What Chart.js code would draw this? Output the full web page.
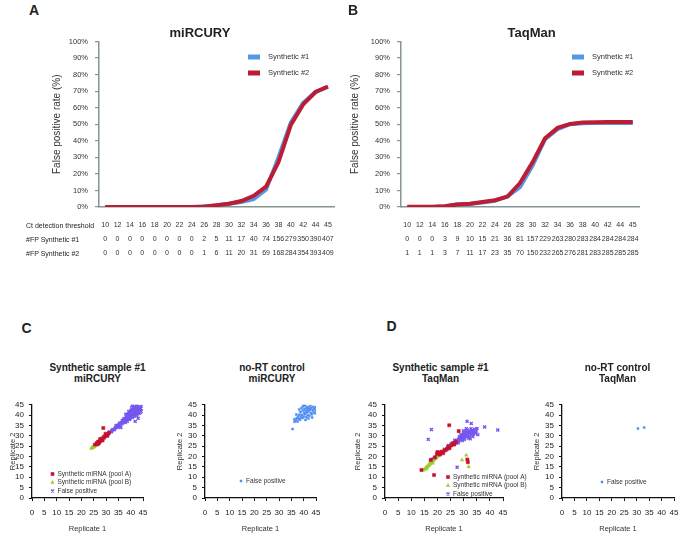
<!DOCTYPE html>
<html>
<head>
<meta charset="utf-8">
<script src="https://cdn.jsdelivr.net/npm/chart.js@4.4.1/dist/chart.umd.min.js"></script>
<style>
  html, body { margin: 0; padding: 0; background: #fff; }
  #page { position: relative; width: 685px; height: 534px; overflow: hidden; font-family: 'Liberation Sans', Arial, sans-serif; color: #222; }
  #page canvas { position: absolute; }
  .txt { position: absolute; white-space: nowrap; line-height: 1; }
</style>
</head>
<body>
<div id="page"></div>
<script>
// --- data ---
const thresholds = [10, 12, 14, 16, 18, 20, 22, 24, 26, 28, 30, 32, 34, 36, 38, 40, 42, 44, 45];

// number of false positives per threshold (tables under A and B)
const fpMir1 = [0, 0, 0, 0, 0, 0, 0, 0, 2, 5, 11, 17, 40, 74, 156, 279, 350, 390, 407];
const fpMir2 = [0, 0, 0, 0, 0, 0, 0, 0, 1, 6, 11, 20, 31, 69, 168, 284, 354, 393, 409];
const fpTaq1 = [0, 0, 0, 3, 9, 10, 15, 21, 36, 81, 157, 229, 263, 280, 283, 284, 284, 284, 284];
const fpTaq2 = [1, 1, 1, 3, 7, 11, 17, 23, 35, 70, 150, 232, 265, 276, 281, 283, 285, 285, 285];

// false positive rate (%) curves
const rateMir1 = [0, 0, 0, 0, 0, 0, 0, 0, 0.4, 0.9, 2, 3, 4.8, 10.5, 30, 51, 63, 69.5, 72.5];
const rateMir2 = [0, 0, 0, 0, 0, 0, 0, 0, 0.2, 1.1, 2, 3.6, 6.8, 12.3, 27, 49.5, 62, 69.5, 72.8];
const rateTaq1 = [0, 0, 0, 0.5, 1.6, 1.8, 2.7, 3.8, 6.4, 12, 25, 41, 47, 50, 50.6, 50.8, 50.8, 50.8, 50.8];
const rateTaq2 = [0.2, 0.2, 0.2, 0.5, 1.5, 2, 3, 4.1, 6.3, 14.5, 27, 41.5, 47.8, 50.2, 51, 51.2, 51.4, 51.4, 51.4];

// scatter C: miRCURY synthetic sample #1 (replicate 1, replicate 2)
const mirPoolA = [[25.5, 25.8], [26.2, 26.5], [26.8, 27.2], [27.3, 26.9], [27.8, 27.9], [28.2, 28.6], [28.6, 27.8],
  [29.1, 29.4], [29.5, 29.8], [30.1, 30.4], [30.5, 30.0], [27.0, 26.3], [28.9, 33.8], [26.5, 25.9], [29.8, 31.0],
  [31.2, 31.5], [27.6, 28.4]];
const mirPoolB = [[24.0, 23.9], [24.3, 24.2], [24.6, 24.3], [24.9, 24.8], [25.1, 24.6], [25.3, 25.2], [25.6, 25.4],
  [25.8, 25.9], [26.0, 25.6], [26.2, 26.1], [26.5, 26.3], [26.7, 26.8], [27.0, 26.6], [27.2, 27.1], [27.5, 27.4],
  [27.8, 27.2], [28.0, 27.9], [28.3, 28.1], [28.6, 28.4], [29.0, 28.7], [24.5, 24.7], [25.4, 25.0], [26.3, 26.6],
  [27.4, 27.7]];
const mirFalsePos = [[28.5, 28.8], [29.3, 29.0], [30.0, 30.3], [30.8, 30.6], [31.5, 31.9], [32.2, 32.0], [32.8, 33.1],
  [33.3, 32.9], [33.9, 34.2], [34.4, 34.0], [34.9, 35.1], [35.3, 35.6], [35.8, 35.3], [36.2, 36.5], [36.5, 35.9],
  [36.8, 36.9], [37.0, 37.5], [37.3, 36.6], [37.5, 37.9], [37.7, 38.4], [37.9, 37.2], [38.1, 38.0], [38.2, 38.9],
  [38.4, 37.6], [38.5, 39.3], [38.7, 38.3], [38.9, 39.8], [39.0, 38.7], [39.1, 40.4], [39.3, 39.2], [39.4, 37.9],
  [39.5, 40.9], [39.6, 39.6], [39.8, 41.5], [39.9, 38.8], [40.0, 40.2], [40.1, 42.3], [40.2, 39.4], [40.3, 41.0],
  [40.4, 43.0], [40.5, 40.6], [40.6, 38.9], [40.7, 41.8], [40.8, 44.5], [40.9, 39.9], [41.0, 42.6], [41.1, 40.8],
  [41.2, 43.6], [41.3, 41.4], [41.4, 39.6], [41.5, 42.1], [41.6, 44.2], [41.7, 40.4], [41.8, 41.9], [41.9, 43.1],
  [42.0, 40.9], [42.1, 42.6], [42.2, 44.8], [42.3, 41.5], [42.4, 39.8], [42.5, 43.4], [42.6, 42.0], [42.8, 40.6],
  [42.9, 44.0], [43.0, 41.8], [43.2, 42.9], [43.4, 40.9], [43.5, 43.7], [43.7, 42.4], [43.9, 41.3], [44.0, 43.2],
  [44.2, 44.3], [44.4, 42.0], [38.0, 40.5], [39.2, 41.8], [40.4, 44.8], [43.0, 38.5], [41.8, 37.0], [36.0, 34.0],
  [42.7, 45.0], [31.0, 31.3], [33.6, 33.4], [35.0, 34.4], [35.6, 36.2], [36.6, 37.3], [37.2, 38.1], [38.6, 37.0],
  [39.7, 38.2], [40.9, 41.2], [41.5, 43.0], [42.7, 43.0], [39.4, 40.0], [37.8, 36.4], [34.1, 35.0], [32.4, 32.6]];

// scatter C: miRCURY no-RT control
const mirNoRT = [[35.5, 33.3], [36.3, 36.8], [36.8, 37.5], [37.2, 38.6], [37.5, 36.9], [37.8, 39.4], [38.0, 38.1],
  [38.3, 40.2], [38.5, 37.8], [38.7, 41.5], [38.9, 39.0], [39.1, 43.5], [39.3, 40.1], [39.5, 38.6], [39.6, 42.2],
  [39.8, 44.3], [40.0, 39.4], [40.2, 41.0], [40.3, 43.0], [40.5, 40.5], [40.6, 44.7], [40.8, 42.0], [41.0, 39.0],
  [41.1, 43.6], [41.3, 41.3], [41.5, 42.8], [41.6, 40.0], [41.8, 44.0], [42.0, 41.8], [42.2, 43.2], [42.3, 39.7],
  [42.5, 42.5], [42.7, 44.6], [42.9, 41.0], [43.1, 43.5], [43.3, 40.4], [43.6, 42.4], [43.8, 44.0], [44.0, 41.4],
  [44.3, 43.0], [44.6, 40.9], [44.8, 43.8], [37.0, 40.3], [38.2, 42.7], [39.9, 45.0], [41.9, 38.4], [43.4, 38.9],
  [36.2, 38.0], [44.9, 42.2], [40.7, 37.7]];

// scatter D: TaqMan synthetic sample #1
const taqPoolA = [[13.9, 13.5], [18.7, 11.1], [24.5, 35.1], [28.1, 32.3], [31.4, 18.6], [31.6, 17.3], [17.5, 18.4],
  [19.0, 19.6], [19.8, 21.3], [20.3, 21.9], [20.9, 21.0], [21.6, 22.4], [22.2, 21.6], [22.8, 23.0], [23.5, 23.6],
  [24.1, 24.8], [24.6, 24.0], [25.3, 25.5], [25.9, 26.4], [26.4, 25.8], [27.0, 27.1], [20.0, 22.2], [21.2, 21.9]];
const taqPoolB = [[14.6, 13.4], [15.0, 14.0], [15.3, 13.9], [15.6, 14.6], [15.9, 14.3], [16.2, 15.0], [16.5, 15.4],
  [16.8, 15.9], [17.1, 16.2], [17.4, 16.8], [17.7, 17.1], [18.0, 17.6], [18.4, 18.0], [18.8, 18.6], [19.2, 19.1],
  [19.6, 19.4], [20.1, 20.2], [20.6, 20.5], [21.1, 21.3], [21.7, 21.8], [22.3, 22.6], [23.0, 23.1], [23.7, 23.9],
  [24.4, 24.6], [25.1, 25.3], [15.8, 15.1], [16.6, 16.0], [17.3, 17.4], [29.4, 18.4], [31.0, 20.7], [31.9, 15.1],
  [18.2, 16.8]];
const taqFalsePos = [[17.3, 17.9], [17.8, 18.5], [18.4, 18.9], [19.0, 19.3], [19.6, 20.0], [20.3, 20.6], [21.0, 21.1],
  [21.6, 21.9], [22.3, 22.4], [22.9, 23.1], [23.5, 23.4], [24.0, 24.2], [24.6, 24.9], [25.1, 25.3], [25.6, 25.9],
  [26.0, 26.6], [26.4, 25.9], [26.8, 27.2], [27.1, 26.5], [27.4, 27.8], [27.7, 27.0], [28.0, 28.4], [28.2, 27.5],
  [28.5, 29.0], [28.7, 28.1], [29.0, 29.5], [29.2, 28.6], [29.4, 30.2], [29.6, 29.1], [29.8, 30.8], [30.0, 29.6],
  [30.1, 31.4], [30.3, 30.2], [30.5, 28.9], [30.6, 31.0], [30.8, 32.0], [30.9, 29.7], [31.1, 30.6], [31.3, 31.6],
  [31.4, 32.8], [31.6, 30.1], [31.8, 31.2], [32.0, 32.2], [32.2, 29.4], [32.4, 30.8], [32.6, 31.9], [32.8, 33.4],
  [33.0, 30.4], [33.2, 31.5], [33.4, 32.6], [33.7, 30.9], [33.9, 32.0], [34.2, 33.2], [34.5, 31.3], [34.8, 32.4],
  [35.1, 33.6], [35.4, 30.6], [29.9, 32.5], [31.0, 33.5], [28.9, 30.6], [32.5, 28.6],
  [27.9, 26.6], [28.4, 29.6], [29.5, 27.8], [30.2, 28.2], [30.7, 30.7], [31.9, 29.0], [32.9, 32.5], [33.5, 29.7],
  [26.6, 27.9], [25.3, 26.2], [24.2, 25.3], [22.6, 23.6],
  [17.7, 33.1], [16.5, 28.3], [31.3, 37.0], [32.9, 36.0], [38.0, 34.3], [43.0, 32.8], [27.5, 14.8]];

// scatter D: TaqMan no-RT control
const taqNoRT = [[30.5, 33.6], [33.0, 34.0]];

// --- styling ---
const FONT = "'Liberation Sans', Arial, sans-serif";
Chart.defaults.font.family = FONT;
Chart.defaults.animation = false;

const blueLine = '#5598e4';
const redLine = '#bc1d34';
const axisGray = '#869494';
const redPt = '#c8102e';
const greenPt = '#9ccc2e';
const purplePt = '#7557ef';
const bluePt = '#4f8ef0';

const page = document.getElementById('page');

function makeCanvas(box) {
  const cv = document.createElement('canvas');
  cv.width = box.w;
  cv.height = box.h;
  cv.style.left = box.left + 'px';
  cv.style.top = box.top + 'px';
  page.appendChild(cv);
  return cv;
}

function addText(text, x, y, size, bold, center) {
  const d = document.createElement('div');
  d.className = 'txt';
  d.textContent = text;
  d.style.left = x + 'px';
  d.style.top = y + 'px';
  d.style.fontSize = size + 'px';
  if (bold) d.style.fontWeight = 'bold';
  d.style.transform = center ? 'translate(-50%, -50%)' : 'translate(0, -50%)';
  page.appendChild(d);
}

// small legend drawn inside the plot area
const miniLegend = {
  id: 'miniLegend',
  afterDraw(chart, args, opts) {
    if (opts.x === undefined) return;
    const ctx = chart.ctx;
    ctx.save();
    ctx.font = opts.fontSize + 'px ' + FONT;
    ctx.textBaseline = 'middle';
    chart.data.datasets.forEach((ds, i) => {
      const y = opts.y + i * opts.rowGap;
      if (opts.kind === 'line') {
        ctx.fillStyle = ds.borderColor;
        ctx.fillRect(opts.x, y - 2.5, opts.swatch, 5);
      } else {
        ctx.fillStyle = ds.backgroundColor;
        ctx.strokeStyle = ds.borderColor;
        ctx.lineWidth = ds.borderWidth;
        Chart.helpers.drawPoint(ctx, {
          pointStyle: ds.pointStyle, radius: ds.pointRadius, borderWidth: ds.borderWidth, rotation: 0
        }, opts.x, y);
      }
      ctx.fillStyle = '#333';
      ctx.fillText(ds.label, opts.x + opts.textGap, y);
    });
    ctx.restore();
  }
};
Chart.register(miniLegend);

function rateChart(box, rate1, rate2, fp1, fp2) {
  const cv = makeCanvas(box);
  new Chart(cv, {
    type: 'line',
    data: {
      labels: thresholds.map(String),
      datasets: [
        { label: 'Synthetic #1', data: rate1, borderColor: blueLine, backgroundColor: blueLine,
          borderWidth: 4, pointRadius: 0, tension: 0, order: 1 },
        { label: 'Synthetic #2', data: rate2, borderColor: redLine, backgroundColor: redLine,
          borderWidth: 4, pointRadius: 0, tension: 0, order: 0 }
      ]
    },
    options: {
      responsive: false,
      layout: { padding: box.pad },
      plugins: {
        legend: { display: false },
        tooltip: { enabled: false },
        miniLegend: { kind: 'line', x: box.legX, y: box.legY, rowGap: 16, swatch: 12, textGap: 20, fontSize: 7.5 }
      },
      scales: {
        x: {
          offset: true,
          grid: { display: false, drawTicks: false },
          border: { color: axisGray, width: 1.5 },
          ticks: {
            autoSkip: false, maxRotation: 0, minRotation: 0, padding: 11, color: '#333',
            font: { size: 7, lineHeight: 2 },
            callback: (v, i) => [String(thresholds[i]), String(fp1[i]), String(fp2[i])]
          },
          afterFit: s => { s.height = box.xh; }
        },
        y: {
          min: 0, max: 100,
          ticks: { stepSize: 10, callback: v => v + '%', padding: 7, color: '#333', font: { size: 7.5 } },
          grid: { drawOnChartArea: false, tickLength: 4, color: axisGray, lineWidth: 1.2 },
          border: { color: axisGray, width: 1.5 },
          title: { display: true, text: 'False positive rate (%)', color: '#333', font: { size: 10 },
                   padding: { top: box.tpad, bottom: 0 } },
          afterFit: s => { s.width = box.yw; }
        }
      }
    }
  });
}

function replicateChart(box, datasets, legend) {
  const cv = makeCanvas(box);
  const axis = (title, side) => ({
    type: 'linear', min: 0, max: 45,
    ticks: { stepSize: 5, autoSkip: false, maxRotation: 0, minRotation: 0,
             padding: side === 'x' ? 6.5 : 5, color: '#222', font: { size: 8 } },
    grid: { drawOnChartArea: false, tickLength: 3, color: '#111', lineWidth: 1 },
    border: { color: '#111', width: 1.3 },
    title: { display: true, text: title, color: '#333', font: { size: 7.5 },
             padding: side === 'x' ? { top: 0, bottom: 0.5 } : { top: box.tpad, bottom: 0 } },
    afterFit: s => { if (side === 'x') s.height = box.xh; else s.width = box.yw; }
  });
  new Chart(cv, {
    type: 'scatter',
    data: { datasets: datasets },
    options: {
      responsive: false,
      layout: { padding: box.pad },
      plugins: {
        legend: { display: false },
        tooltip: { enabled: false },
        miniLegend: Object.assign({ kind: 'point', rowGap: 8.5, textGap: 5, fontSize: 6.5 }, legend)
      },
      scales: { x: axis('Replicate 1', 'x'), y: axis('Replicate 2', 'y') }
    }
  });
}

const poolASet = d => ({ label: 'Synthetic miRNA (pool A)', data: d, pointStyle: 'rect', pointRadius: 2.2,
  backgroundColor: redPt, borderColor: redPt, borderWidth: 0.5 });
const poolBSet = d => ({ label: 'Synthetic miRNA (pool B)', data: d, pointStyle: 'triangle', pointRadius: 2,
  backgroundColor: greenPt, borderColor: greenPt, borderWidth: 0.5 });
const falsePosSet = d => ({ label: 'False positive', data: d, pointStyle: 'crossRot', pointRadius: 2.1,
  backgroundColor: purplePt, borderColor: purplePt, borderWidth: 1.4 });
const noRTSet = d => ({ label: 'False positive', data: d, pointStyle: 'rect', pointRadius: 1.4,
  backgroundColor: bluePt, borderColor: bluePt, borderWidth: 0.5 });

// --- panels A and B ---
rateChart({ left: 35, top: 30, w: 310, h: 245, pad: { left: 0, top: 9, right: 9, bottom: 8 },
            yw: 64, xh: 60, tpad: 16, legX: 248 - 35, legY: 57 - 30 },
          rateMir1, rateMir2, fpMir1, fpMir2);
rateChart({ left: 340, top: 30, w: 310, h: 245, pad: { left: 0, top: 9, right: 11, bottom: 8 },
            yw: 61, xh: 60, tpad: 9, legX: 572 - 340, legY: 57 - 30 },
          rateTaq1, rateTaq2, fpTaq1, fpTaq2);

// --- panels C and D ---
replicateChart({ left: 2, top: 395, w: 152, h: 139, pad: { left: 0, top: 9, right: 8, bottom: 0 }, yw: 30, xh: 36, tpad: 6.5 },
  [poolASet(mirPoolA), poolBSet(mirPoolB), falsePosSet(mirFalsePos)], { x: 52.5 - 2, y: 474 - 395 });
replicateChart({ left: 170, top: 395, w: 157, h: 139, pad: { left: 0, top: 9, right: 8, bottom: 0 }, yw: 35, xh: 36, tpad: 5.5 },
  [noRTSet(mirNoRT)], { x: 241 - 170, y: 481 - 395 });
replicateChart({ left: 348, top: 395, w: 185, h: 139, pad: { left: 0, top: 9, right: 30, bottom: 0 }, yw: 37, xh: 36, tpad: 5.8 },
  [poolASet(taqPoolA), poolBSet(taqPoolB), falsePosSet(taqFalsePos)], { x: 448 - 348, y: 477 - 395 });
replicateChart({ left: 526, top: 395, w: 159, h: 139, pad: { left: 0, top: 9, right: 5, bottom: 0 }, yw: 36, xh: 36, tpad: 6.2 },
  [noRTSet(taqNoRT)], { x: 602 - 526, y: 482 - 395 });

// --- titles, panel letters, table row names ---
addText('A', 29, 9.5, 14, true, false);
addText('B', 348, 9.5, 14, true, false);
addText('C', 21.5, 328, 14, true, false);
addText('D', 386.5, 326, 14, true, false);
addText('miRCURY', 200, 31.7, 13, true, true);
addText('TaqMan', 531.7, 31.7, 13, true, true);
addText('Ct detection threshold', 26, 225, 7, false, false);
addText('#FP Synthetic #1', 26, 238.7, 7, false, false);
addText('#FP Synthetic #2', 26, 252.7, 7, false, false);
addText('Synthetic sample #1', 97.5, 367.5, 10, true, true);
addText('miRCURY', 97.5, 379.2, 10, true, true);
addText('no-RT control', 272, 367.5, 10, true, true);
addText('miRCURY', 272, 379.2, 10, true, true);
addText('Synthetic sample #1', 440.5, 367.5, 10, true, true);
addText('TaqMan', 440.5, 379.2, 10, true, true);
addText('no-RT control', 617.5, 367.5, 10, true, true);
addText('TaqMan', 617.5, 379.2, 10, true, true);
</script>
</body>
</html>
